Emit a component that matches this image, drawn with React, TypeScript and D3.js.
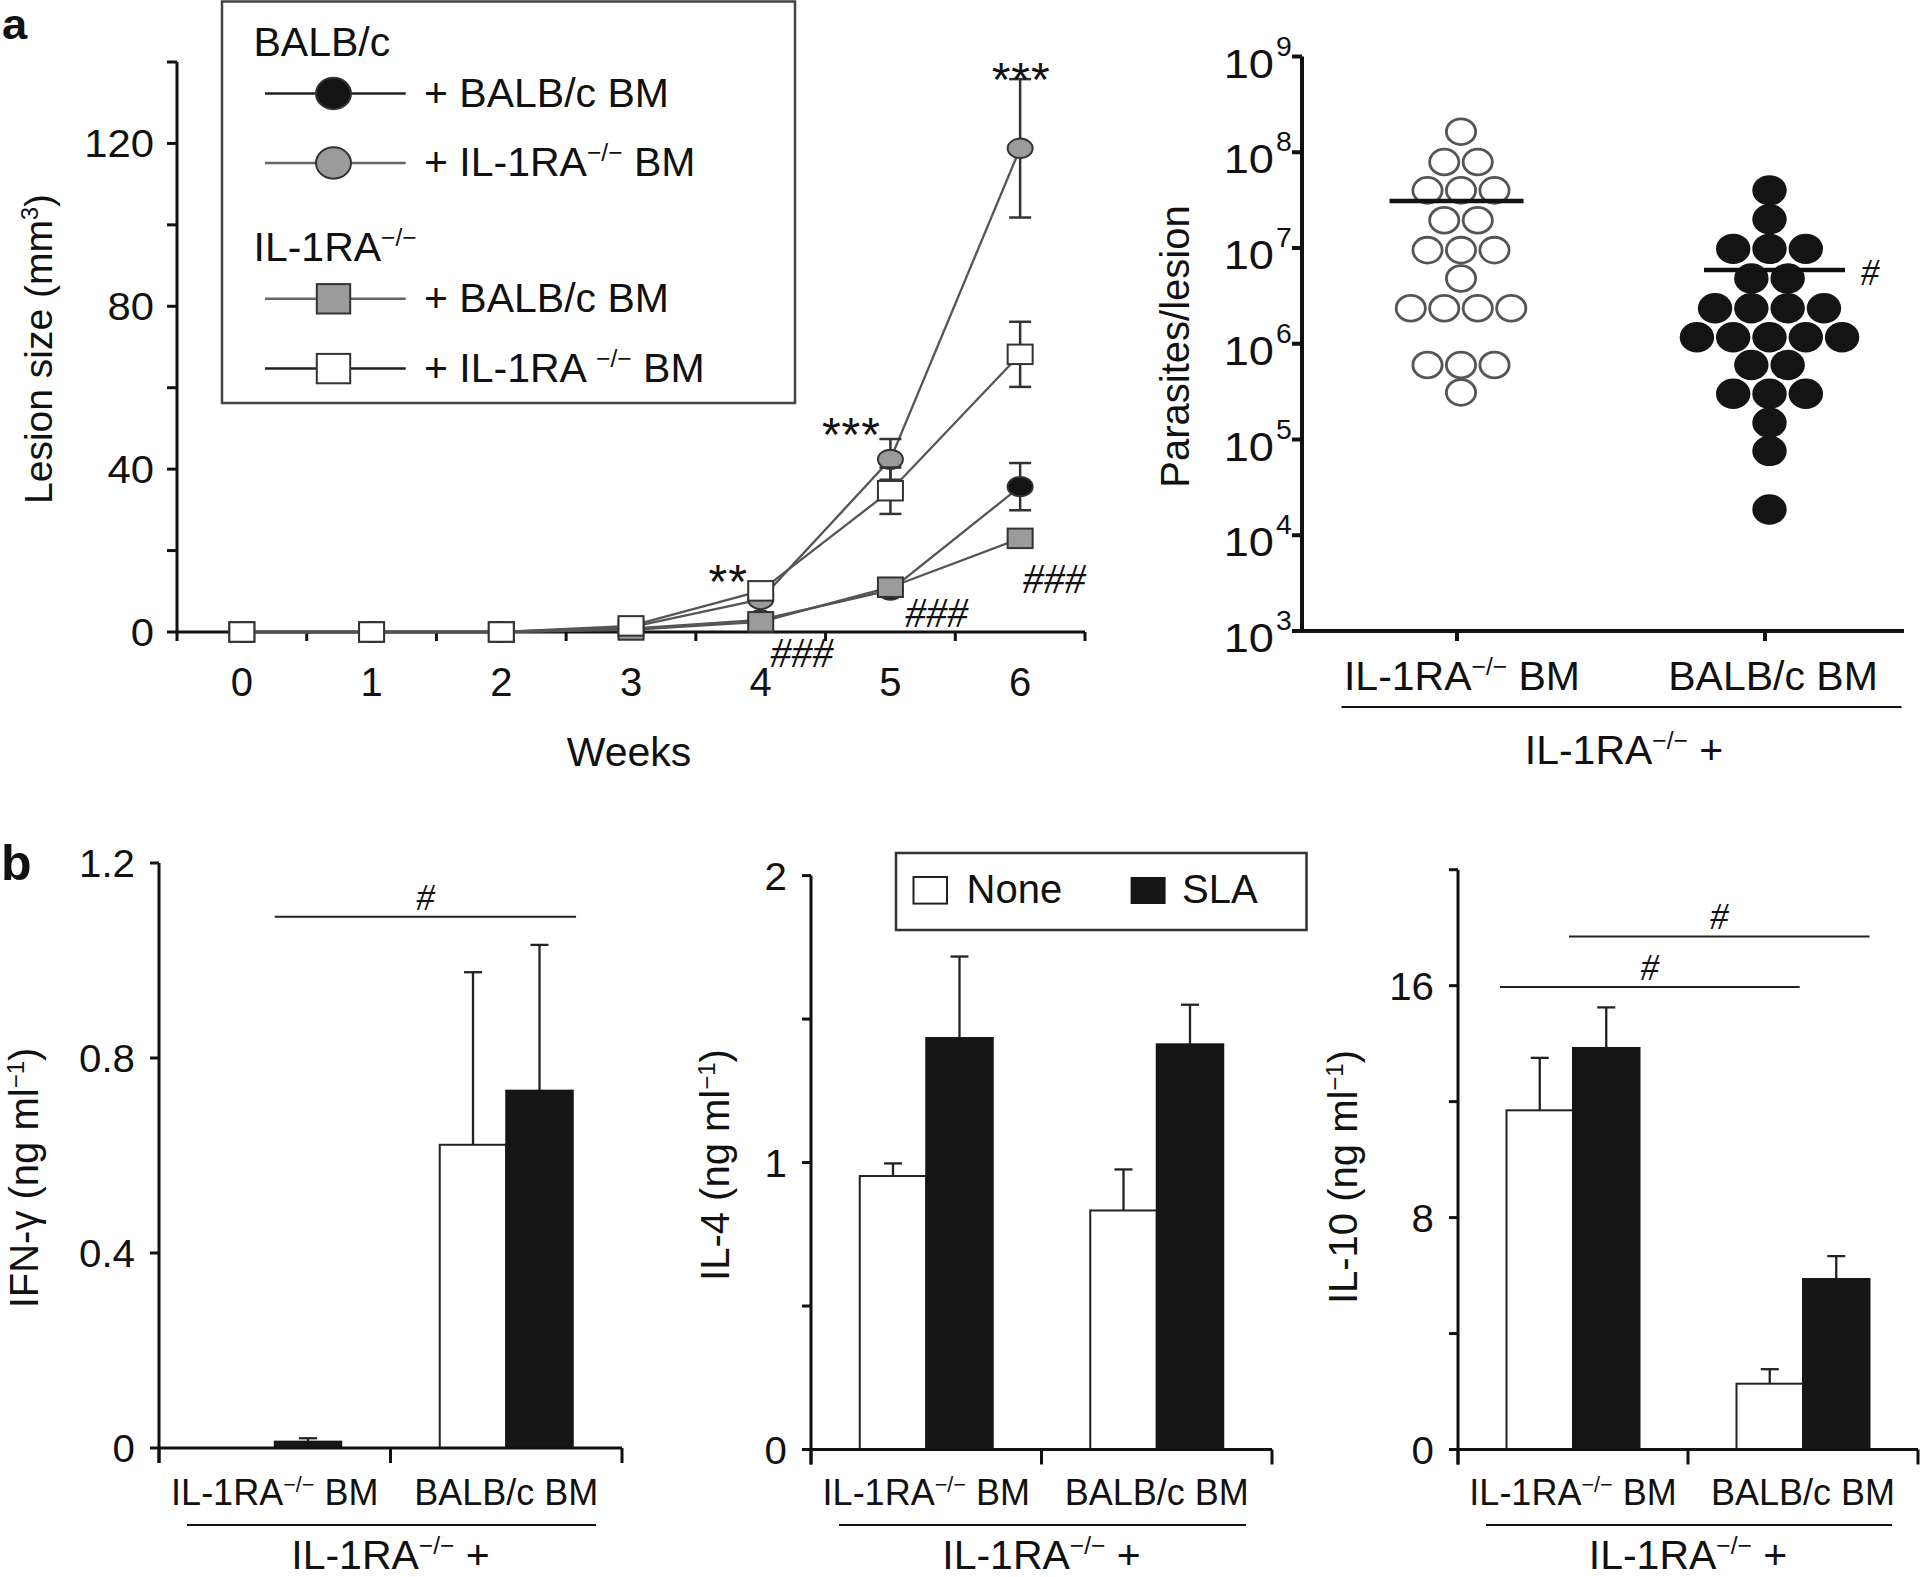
import React from 'react';
import * as d3 from 'd3';

const SANS = "'Liberation Sans', Arial, Helvetica, sans-serif";
const SERIF = "'Liberation Serif', 'Times New Roman', serif";
const KO = '\u2212/\u2212';

// ---------- Panel a (left): lesion size ----------
const weeks = [0, 1, 2, 3, 4, 5, 6];
const lesionBalbWithBalbBM = [0, 0, 0, 0.8, 3, 10.3, 35.7];
const lesionBalbWithBalbBMErr = [0, 0, 0, 0, 0, 0, 5.8];
const lesionBalbWithKoBM = [0, 0, 0, 1.2, 8, 42.4, 118.8];
const lesionBalbWithKoBMErr = [0, 0, 0, 0, 0, 5, 17];
const lesionKoWithBalbBM = [0, 0, 0, 0.5, 2.5, 11, 23];
const lesionKoWithBalbBMErr = [0, 0, 0, 0, 0, 0, 0];
const lesionKoWithKoBM = [0, 0, 0, 1.5, 10.1, 34.7, 68.2];
const lesionKoWithKoBMErr = [0, 0, 0, 0, 0, 5.7, 8];
const lesionTicks = [0, 20, 40, 60, 80, 100, 120, 140];
const lesionTickLabels = [0, 40, 80, 120];

// ---------- Panel a (right): parasites per lesion ----------
const parasiteGroups = ['IL-1RA BM', 'BALB/c BM'];
const parasitesKoBM = [
  1.64e8, 7.9e7, 7.9e7, 4.0e7, 4.0e7, 4.0e7, 1.95e7, 1.95e7, 9.5e6, 9.5e6, 9.5e6,
  4.8e6, 2.35e6, 2.35e6, 2.35e6, 2.35e6, 6.0e5, 6.0e5, 6.0e5, 3.1e5,
];
const parasitesBalbBM = [
  4.0e7, 2.0e7, 9.8e6, 9.8e6, 9.8e6, 4.8e6, 4.8e6, 2.35e6, 2.35e6, 2.35e6, 2.35e6,
  1.17e6, 1.17e6, 1.17e6, 1.17e6, 1.17e6, 6.0e5, 6.0e5, 3.0e5, 3.0e5, 3.0e5, 1.5e5, 7.6e4, 1.86e4,
];
const parasiteMedians = [3.1e7, 5.9e6];
const parasiteDecades = [3, 4, 5, 6, 7, 8, 9];

// ---------- Panel b: cytokines ----------
const cytoGroups = ['IL-1RA BM', 'BALB/c BM'];
const ifnNone = [0, 0.622];
const ifnNoneErr = [0, 0.354];
const ifnSla = [0.013, 0.733];
const ifnSlaErr = [0.007, 0.299];
const ifnTicks = [0, 0.4, 0.8, 1.2];
const il4None = [0.953, 0.833];
const il4NoneErr = [0.044, 0.143];
const il4Sla = [1.434, 1.412];
const il4SlaErr = [0.284, 0.138];
const il4Ticks = [0, 0.5, 1, 1.5, 2];
const il4TickLabels = [0, 1, 2];
const il10None = [11.7, 2.27];
const il10NoneErr = [1.81, 0.5];
const il10Sla = [13.85, 5.88];
const il10SlaErr = [1.4, 0.79];
const il10Ticks = [0, 4, 8, 12, 16, 20];
const il10TickLabels = [0, 8, 16];

type TP = {
  x: number; y: number; size: number; anchor?: string; sx?: number; rotate?: number;
  weight?: string | number; family?: string; italic?: boolean; fill?: string; ls?: number;
  children?: React.ReactNode;
};
function T({ x, y, size, anchor = 'start', sx = 1, rotate = 0, weight = 'normal', family = SANS, italic = false, fill = '#111', ls, children }: TP) {
  let tr = `translate(${x},${y})`;
  if (sx !== 1) tr += ` scale(${sx},1)`;
  if (rotate) tr += ` rotate(${rotate})`;
  return (
    <text transform={tr} fontSize={size} textAnchor={anchor as any} fontWeight={weight} fontFamily={family}
      fontStyle={italic ? 'italic' : 'normal'} fill={fill} letterSpacing={ls}>
      {children}
    </text>
  );
}
function sup(before: string, s: string, after: string, size: number) {
  const d = size * 0.36;
  return [
    <tspan key="a">{before}</tspan>,
    <tspan key="b" fontSize={size * 0.6} dy={-d}>{s}</tspan>,
    <tspan key="c" dy={d}>{after}</tspan>,
  ];
}

function swarm(values: number[], center: number, spacing: number) {
  const g = d3.group(values, (v) => v);
  const out: { v: number; x: number }[] = [];
  for (const [v, arr] of g) arr.forEach((_, k) => out.push({ v, x: center + (k - (arr.length - 1) / 2) * spacing }));
  return out;
}

function Marker({ shape, cx, cy, fill, rx, ry }: { shape: string; cx: number; cy: number; fill: string; rx: number; ry: number }) {
  if (shape === 'circle') return <ellipse cx={cx} cy={cy} rx={rx} ry={ry} fill={fill} stroke="#333" strokeWidth={2} />;
  return <rect x={cx - rx} y={cy - ry} width={2 * rx} height={2 * ry} fill={fill} stroke="#333" strokeWidth={2} />;
}

function LesionPanel() {
  const xA = d3.scaleLinear().domain([-0.5, 6.5]).range([177, 1085]);
  const yA = d3.scaleLinear().domain([0, 140]).range([632, 62]);
  const series = [
    { values: lesionBalbWithBalbBM, err: lesionBalbWithBalbBMErr, shape: 'circle', fill: '#141414', leg: '#222' },
    { values: lesionBalbWithKoBM, err: lesionBalbWithKoBMErr, shape: 'circle', fill: '#9b9b9b', leg: '#666' },
    { values: lesionKoWithBalbBM, err: lesionKoWithBalbBMErr, shape: 'square', fill: '#9b9b9b', leg: '#666' },
    { values: lesionKoWithKoBM, err: lesionKoWithKoBMErr, shape: 'square', fill: '#ffffff', leg: '#222' },
  ];
  const line = d3.line<number>().x((_, i) => xA(weeks[i])).y((v) => yA(v));
  const legendRows = [93.5, 163, 298.8, 368.6];
  const legendText = [
    '+ BALB/c BM',
    sup('+ IL-1RA', KO, ' BM', 41),
    '+ BALB/c BM',
    sup('+ IL-1RA ', KO, ' BM', 41),
  ];
  const y0 = yA(0);
  return (
    <g>
      <T x={2} y={38.5} size={42} sx={1.08} weight="bold">a</T>
      {/* legend */}
      <rect x={222} y={1.5} width={573} height={401.5} fill="none" stroke="#444" strokeWidth={2.5} />
      <T x={253.5} y={56} size={41}>BALB/c</T>
      <T x={253.5} y={261} size={41}>{sup('IL-1RA', KO, '', 41)}</T>
      {series.map((s, i) => (
        <g key={i}>
          <line x1={265} x2={405.7} y1={legendRows[i]} y2={legendRows[i]} stroke={s.leg} strokeWidth={2.5} />
          <Marker shape={s.shape} cx={333.5} cy={legendRows[i]} fill={s.fill} rx={s.shape === 'circle' ? 17.5 : 16.7} ry={s.shape === 'circle' ? 15.7 : 14.7} />
          <T x={424} y={legendRows[i] + 13} size={41}>{legendText[i]}</T>
        </g>
      ))}
      {/* axes */}
      <line x1={xA(-0.5)} x2={xA(-0.5)} y1={yA(140)} y2={y0 + 9} stroke="#111" strokeWidth={3} />
      {lesionTicks.map((t) => (
        <line key={t} x1={xA(-0.5) - 10} x2={xA(-0.5)} y1={yA(t)} y2={yA(t)} stroke="#111" strokeWidth={3} />
      ))}
      {lesionTickLabels.map((t) => (
        <T key={t} x={154} y={yA(t) + 13.5} size={38} sx={1.1} anchor="end">{t}</T>
      ))}
      <line x1={xA(-0.5)} x2={xA(6.5)} y1={y0} y2={y0} stroke="#111" strokeWidth={3} />
      {weeks.map((w) => (
        <line key={w} x1={xA(w + 0.5)} x2={xA(w + 0.5)} y1={y0} y2={y0 + 9} stroke="#111" strokeWidth={3} />
      ))}
      {weeks.map((w) => (
        <T key={w} x={xA(w)} y={696} size={40} anchor="middle">{w}</T>
      ))}
      <T x={xA(3) - 2} y={766} size={41} anchor="middle">Weeks</T>
      <T x={52} y={349} size={39} anchor="middle" rotate={-90}>{sup('Lesion size (mm', '3', ')', 39)}</T>
      {/* data */}
      {series.map((s, i) => (
        <g key={i}>
          <path d={line(s.values) || ''} fill="none" stroke="#555" strokeWidth={2.3} />
          {s.values.map((v, j) =>
            s.err[j] > 0 ? (
              <g key={j} stroke="#333" strokeWidth={2.5}>
                <line x1={xA(weeks[j])} x2={xA(weeks[j])} y1={yA(v - s.err[j])} y2={yA(v + s.err[j])} />
                <line x1={xA(weeks[j]) - 11} x2={xA(weeks[j]) + 11} y1={yA(v + s.err[j])} y2={yA(v + s.err[j])} />
                <line x1={xA(weeks[j]) - 11} x2={xA(weeks[j]) + 11} y1={yA(v - s.err[j])} y2={yA(v - s.err[j])} />
              </g>
            ) : null
          )}
          {s.values.map((v, j) => (
            <Marker key={'m' + j} shape={s.shape} cx={xA(weeks[j])} cy={yA(v)} fill={s.fill}
              rx={12.5} ry={s.shape === 'circle' ? 9.7 : 9.75} />
          ))}
        </g>
      ))}
      {/* annotations */}
      <T x={xA(6) + 1} y={96} size={48} anchor="middle" ls={1}>***</T>
      <T x={xA(5) - 39} y={450.5} size={48} anchor="middle" ls={1}>***</T>
      <T x={xA(4) - 32.5} y={597.5} size={48} anchor="middle" ls={1}>**</T>
      <T x={xA(4) + 41} y={667} size={42} anchor="middle" family={SERIF} italic>###</T>
      <T x={xA(5) + 46} y={627} size={42} anchor="middle" family={SERIF} italic>###</T>
      <T x={xA(6) + 34} y={593} size={42} anchor="middle" family={SERIF} italic>###</T>
    </g>
  );
}

function ParasitePanel() {
  const yP = d3.scaleLog().domain([1e3, 1e9]).range([631, 56.5]);
  const xP = d3.scalePoint<string>().domain(parasiteGroups).range([1457, 1765]);
  const axX = 1302;
  const axEnd = 1904;
  const open = swarm(parasitesKoBM, xP(parasiteGroups[0])! + 4, 33.5);
  const filled = swarm(parasitesBalbBM, xP(parasiteGroups[1])! + 4.5, 36.3);
  const medHalf = [67, 70.5];
  return (
    <g>
      <line x1={axX} x2={axX} y1={yP(1e9)} y2={yP(1e3) + 2} stroke="#111" strokeWidth={4} />
      <line x1={axX} x2={axEnd} y1={yP(1e3)} y2={yP(1e3)} stroke="#111" strokeWidth={4} />
      {parasiteDecades.map((d) => (
        <g key={d}>
          <line x1={axX - 10} x2={axX} y1={yP(Math.pow(10, d))} y2={yP(Math.pow(10, d))} stroke="#111" strokeWidth={4} />
          <T x={1274} y={yP(Math.pow(10, d)) + 21} size={40} sx={1.13} anchor="end">10</T>
          <T x={1276} y={yP(Math.pow(10, d)) - 1} size={27} sx={1.05}>{String(d)}</T>
        </g>
      ))}
      {parasiteGroups.map((g) => (
        <line key={g} x1={xP(g)!} x2={xP(g)!} y1={yP(1e3)} y2={yP(1e3) + 10} stroke="#111" strokeWidth={4} />
      ))}
      <T x={xP(parasiteGroups[0])! + 5} y={690} size={41} anchor="middle">{sup('IL-1RA', KO, ' BM', 41)}</T>
      <T x={xP(parasiteGroups[1])! + 8} y={690} size={41} anchor="middle">BALB/c BM</T>
      <line x1={1341.5} x2={1901.5} y1={707} y2={707} stroke="#111" strokeWidth={2} />
      <T x={1624} y={764} size={41} anchor="middle">{sup('IL-1RA', KO, ' +', 41)}</T>
      <T x={1189} y={346.5} size={40} anchor="middle" rotate={-90}>Parasites/lesion</T>
      {open.map((d, i) => (
        <ellipse key={'o' + i} cx={d.x} cy={yP(d.v)} rx={14.6} ry={12.9} fill="#fff" stroke="#555" strokeWidth={2.8} />
      ))}
      {filled.map((d, i) => (
        <ellipse key={'f' + i} cx={d.x} cy={yP(d.v)} rx={17.2} ry={15.2} fill="#141414" />
      ))}
      {parasiteMedians.map((m, i) => {
        const c = i === 0 ? xP(parasiteGroups[0])! - 0.5 : xP(parasiteGroups[1])! + 9.5;
        return <line key={i} x1={c - medHalf[i]} x2={c + medHalf[i]} y1={yP(m)} y2={yP(m)} stroke="#111" strokeWidth={4.5} />;
      })}
      <T x={1870} y={285} size={37} anchor="middle" family={SERIF} italic>#</T>
    </g>
  );
}

type Sig = { value: number; a: [number, number]; b: [number, number] };
type BarProps = {
  x0: number; x1: number; yBottom: number; yTopPx: number; yMax: number;
  ticks: number[]; tickLabels: number[]; fmt: (v: number) => string;
  none: number[]; noneErr: number[]; sla: number[]; slaErr: number[];
  title: React.ReactNode; titleX: number; titleY: number; sigs: Sig[];
};
function BarPanel(p: BarProps) {
  const y = d3.scaleLinear().domain([0, p.yMax]).range([p.yBottom, p.yTopPx]);
  const xb = d3.scaleBand<string>().domain(cytoGroups).range([p.x0, p.x1]).padding(0);
  const bw = 66.5;
  const center = (i: number) => xb(cytoGroups[i])! + xb.bandwidth() / 2;
  const pos = (a: [number, number]) => center(a[0]) + a[1] * bw;
  const mid = (p.x0 + p.x1) / 2;
  const y0 = y(0);
  const bars: { x: number; v: number; e: number; fill: string; stroke: string }[] = [];
  cytoGroups.forEach((_, i) => {
    bars.push({ x: center(i) - bw, v: p.none[i], e: p.noneErr[i], fill: '#fff', stroke: '#222' });
    bars.push({ x: center(i), v: p.sla[i], e: p.slaErr[i], fill: '#161616', stroke: '#161616' });
  });
  return (
    <g>
      {bars.map((b, i) => (
        <g key={i}>
          {b.e > 0 && (
            <g stroke="#222" strokeWidth={2.3}>
              <line x1={b.x + bw / 2} x2={b.x + bw / 2} y1={y(b.v)} y2={y(b.v + b.e)} />
              <line x1={b.x + bw / 2 - 9} x2={b.x + bw / 2 + 9} y1={y(b.v + b.e)} y2={y(b.v + b.e)} />
            </g>
          )}
          {b.v > 0 && (
            <rect x={b.x} y={y(b.v)} width={bw} height={y0 - y(b.v)} fill={b.fill} stroke={b.stroke} strokeWidth={2} />
          )}
        </g>
      ))}
      <line x1={p.x0} x2={p.x0} y1={y(p.yMax)} y2={y0 + 15} stroke="#111" strokeWidth={3} />
      <line x1={p.x0} x2={p.x1} y1={y0} y2={y0} stroke="#111" strokeWidth={3} />
      {[p.x0, mid, p.x1].map((x, i) => (
        <line key={i} x1={x} x2={x} y1={y0} y2={y0 + 15} stroke="#111" strokeWidth={3} />
      ))}
      {p.ticks.map((t) => (
        <line key={t} x1={p.x0 - 9} x2={p.x0} y1={y(t)} y2={y(t)} stroke="#111" strokeWidth={3} />
      ))}
      {p.tickLabels.map((t) => (
        <T key={t} x={p.x0 - 24} y={y(t) + 14} size={38} sx={1.06} anchor="end">{p.fmt(t)}</T>
      ))}
      <T x={center(0)} y={1505} size={36} anchor="middle">{sup('IL-1RA', KO, ' BM', 36)}</T>
      <T x={center(1)} y={1505} size={36} anchor="middle">BALB/c BM</T>
      <line x1={p.x0 + 28} x2={p.x1 - 26} y1={1525} y2={1525} stroke="#111" strokeWidth={2} />
      <T x={mid} y={1569} size={41} anchor="middle">{sup('IL-1RA', KO, ' +', 41)}</T>
      <T x={p.titleX} y={p.titleY} size={40} anchor="middle" rotate={-90}>{p.title}</T>
      {p.sigs.map((s, i) => {
        const xa = pos(s.a);
        const xc = pos(s.b);
        return (
          <g key={i}>
            <line x1={xa} x2={xc} y1={y(s.value)} y2={y(s.value)} stroke="#222" strokeWidth={2} />
            <T x={(xa + xc) / 2} y={y(s.value) - 7} size={37} anchor="middle" family={SERIF} italic>#</T>
          </g>
        );
      })}
    </g>
  );
}

export default function App() {
  return (
    <div style={{ position: 'absolute', left: 0, top: 0, width: 1920, height: 1577, background: '#fff' }}>
      <svg width={1920} height={1577} viewBox="0 0 1920 1577" style={{ display: 'block' }}>
        <rect x={0} y={0} width={1920} height={1577} fill="#fff" />
        <LesionPanel />
        <ParasitePanel />
        <T x={1} y={880} size={50} weight="bold">b</T>
        <BarPanel
          x0={159} x1={622} yBottom={1448} yTopPx={863} yMax={1.2}
          ticks={ifnTicks} tickLabels={ifnTicks} fmt={(v) => (v === 0 ? '0' : v.toFixed(1))}
          none={ifnNone} noneErr={ifnNoneErr} sla={ifnSla} slaErr={ifnSlaErr}
          title={sup('IFN-\u03b3 (ng ml', '\u22121', ')', 40)} titleX={38} titleY={1178}
          sigs={[{ value: 1.09, a: [0, 0], b: [1, 1.05] }]}
        />
        <BarPanel
          x0={811} x1={1272} yBottom={1449.5} yTopPx={875.6} yMax={2}
          ticks={il4Ticks} tickLabels={il4TickLabels} fmt={(v) => String(v)}
          none={il4None} noneErr={il4NoneErr} sla={il4Sla} slaErr={il4SlaErr}
          title={sup('IL-4 (ng ml', '\u22121', ')', 40)} titleX={729} titleY={1165}
          sigs={[]}
        />
        <BarPanel
          x0={1458} x1={1918} yBottom={1449.5} yTopPx={869.7} yMax={20}
          ticks={il10Ticks} tickLabels={il10TickLabels} fmt={(v) => String(v)}
          none={il10None} noneErr={il10NoneErr} sla={il10Sla} slaErr={il10SlaErr}
          title={sup('IL-10 (ng ml', '\u22121', ')', 40)} titleX={1357} titleY={1177}
          sigs={[
            { value: 17.7, a: [0, -0.06], b: [1, 1.0] },
            { value: 15.95, a: [0, -1.1], b: [1, -0.05] },
          ]}
        />
        {/* legend of panel b */}
        <g>
          <rect x={896} y={853} width={410.5} height={77} fill="none" stroke="#333" strokeWidth={2.5} />
          <rect x={913.5} y={877} width={33.5} height={26.6} fill="#fff" stroke="#222" strokeWidth={2} />
          <T x={966.5} y={903} size={40}>None</T>
          <rect x={1130.6} y={877} width={35} height={27} fill="#161616" />
          <T x={1182} y={903} size={40}>SLA</T>
        </g>
      </svg>
    </div>
  );
}
